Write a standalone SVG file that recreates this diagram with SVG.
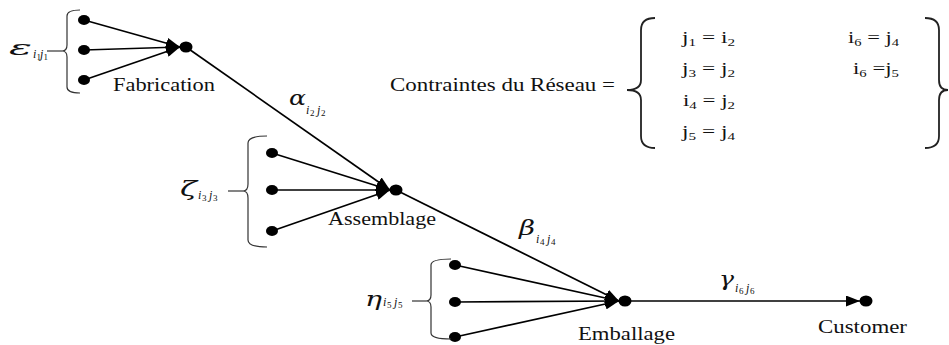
<svg xmlns="http://www.w3.org/2000/svg" width="949" height="345" viewBox="0 0 949 345">
<style>
.t{font-family:"Liberation Serif","Times New Roman",serif;fill:#111;}
.lbl{font-size:18px;}
.g{font-family:"DejaVu Serif","Liberation Serif",serif;font-style:italic;font-weight:normal;font-size:20px;}
.s{font-style:italic;font-size:12px;}
.d{font-size:9px;}
.eq{font-size:17px;}
.ln{stroke:#000;stroke-width:1.7;fill:none;}
.br{stroke:#333;stroke-width:1.2;fill:none;}
.bb{stroke:#222;stroke-width:1.8;fill:none;}
.dot{fill:#000;}
</style>
<defs>
<marker id="ah" markerUnits="userSpaceOnUse" markerWidth="15" markerHeight="11" refX="14" refY="5.5" orient="auto">
<path d="M0,0 L14,5.5 L0,11 z" fill="#000"/>
</marker>
</defs>

<g id="connectors">
<line class="ln" x1="84" y1="20" x2="180" y2="47" marker-end="url(#ah)"/>
<line class="ln" x1="84" y1="50" x2="180" y2="47" marker-end="url(#ah)"/>
<line class="ln" x1="84" y1="80" x2="180" y2="47" marker-end="url(#ah)"/>
<line class="ln" x1="186" y1="47" x2="390" y2="190" marker-end="url(#ah)"/>
<line class="ln" x1="272" y1="153" x2="390" y2="190" marker-end="url(#ah)"/>
<line class="ln" x1="272" y1="190" x2="390" y2="190" marker-end="url(#ah)"/>
<line class="ln" x1="272" y1="231" x2="390" y2="190" marker-end="url(#ah)"/>
<line class="ln" x1="396" y1="190" x2="619" y2="301" marker-end="url(#ah)"/>
<line class="ln" x1="455" y1="265" x2="619" y2="301" marker-end="url(#ah)"/>
<line class="ln" x1="455" y1="302" x2="619" y2="301" marker-end="url(#ah)"/>
<line class="ln" x1="455" y1="337" x2="619" y2="301" marker-end="url(#ah)"/>
<line class="ln" x1="625" y1="301" x2="860" y2="301" marker-end="url(#ah)"/>
</g>

<g id="fabrication">
<ellipse class="dot" cx="84" cy="20" rx="6" ry="5"/>
<ellipse class="dot" cx="84" cy="50" rx="6" ry="5"/>
<ellipse class="dot" cx="84" cy="80" rx="6" ry="5"/>
<ellipse class="dot" cx="186" cy="47" rx="6.5" ry="5.5"/>
<path class="br" d="M80,10 Q67,10 67,16 L67,45 Q67,51 62,51 Q67,51 67,57 L67,87 Q67,93 80,93"/>
<line class="br" x1="47" y1="51" x2="62" y2="51"/>
<text class="t g" x="9" y="55" textLength="23" lengthAdjust="spacingAndGlyphs">ε</text>
<text class="t s" x="33" y="58">i</text><text class="t d" x="36.5" y="60">1</text>
<text class="t s" x="40" y="58">j</text><text class="t d" x="43.5" y="60">1</text>
<text class="t lbl" x="113" y="91" textLength="102" lengthAdjust="spacingAndGlyphs">Fabrication</text>
</g>

<g id="alpha-label">
<text class="t g" x="289" y="105" textLength="17" lengthAdjust="spacingAndGlyphs">α</text>
<text class="t s" x="306" y="114">i</text><text class="t d" x="310" y="116">2</text>
<text class="t s" x="317" y="114">j</text><text class="t d" x="321" y="116">2</text>
</g>

<g id="assemblage">
<ellipse class="dot" cx="272" cy="153" rx="6" ry="5"/>
<ellipse class="dot" cx="272" cy="190" rx="6" ry="5"/>
<ellipse class="dot" cx="272" cy="231" rx="6" ry="5"/>
<ellipse class="dot" cx="396" cy="190" rx="6.5" ry="5.5"/>
<path class="br" d="M267,136 Q248,136 248,143 L248,184 Q248,191 243,191 Q248,191 248,198 L248,240 Q248,247 267,247"/>
<line class="br" x1="228" y1="191" x2="243" y2="191"/>
<text class="t g" x="180" y="196" textLength="17" lengthAdjust="spacingAndGlyphs">ζ</text>
<text class="t s" x="198" y="199">i</text><text class="t d" x="202" y="201">3</text>
<text class="t s" x="209" y="199">j</text><text class="t d" x="213" y="201">3</text>
<text class="t lbl" x="328" y="225" textLength="108" lengthAdjust="spacingAndGlyphs">Assemblage</text>
</g>

<g id="beta-label">
<text class="t g" x="519" y="235" textLength="16" lengthAdjust="spacingAndGlyphs">β</text>
<text class="t s" x="536" y="243">i</text><text class="t d" x="540" y="245">4</text>
<text class="t s" x="547" y="243">j</text><text class="t d" x="551" y="245">4</text>
</g>

<g id="emballage">
<ellipse class="dot" cx="455" cy="265" rx="6" ry="5"/>
<ellipse class="dot" cx="455" cy="302" rx="6" ry="5"/>
<ellipse class="dot" cx="455" cy="337" rx="6" ry="5"/>
<ellipse class="dot" cx="625" cy="301" rx="6.5" ry="5.5"/>
<path class="br" d="M451,259 Q431,259 431,265 L431,295 Q431,301 426,301 Q431,301 431,307 L431,333 Q431,339 451,339"/>
<line class="br" x1="412" y1="301" x2="426" y2="301"/>
<text class="t g" x="365" y="306" textLength="17" lengthAdjust="spacingAndGlyphs">η</text>
<text class="t s" x="383" y="306">i</text><text class="t d" x="387" y="308">5</text>
<text class="t s" x="394" y="306">j</text><text class="t d" x="398" y="308">5</text>
<text class="t lbl" x="578" y="340" textLength="97" lengthAdjust="spacingAndGlyphs">Emballage</text>
</g>

<g id="gamma-label">
<text class="t g" x="719" y="286" textLength="15" lengthAdjust="spacingAndGlyphs">γ</text>
<text class="t s" x="735" y="292">i</text><text class="t d" x="739" y="294">6</text>
<text class="t s" x="746" y="292">j</text><text class="t d" x="750" y="294">6</text>
</g>

<g id="customer">
<ellipse class="dot" cx="866" cy="301" rx="6.5" ry="5.5"/>
<text class="t lbl" x="818" y="333" textLength="89" lengthAdjust="spacingAndGlyphs">Customer</text>
</g>

<g id="contraintes">
<text class="t" style="font-size:19px" x="390" y="91" textLength="225" lengthAdjust="spacingAndGlyphs">Contraintes du Réseau =</text>
<path class="bb" d="M655,18 Q641,18 641,30 L641,80 Q641,90 627,90 Q641,90 641,100 L641,136 Q641,148 655,148"/>
<path class="bb" d="M925,18 Q939,18 939,30 L939,80 Q939,90 948,90 Q939,90 939,100 L939,136 Q939,148 925,148"/>
<text class="t eq" x="682" y="43" textLength="53" lengthAdjust="spacingAndGlyphs">j<tspan font-size="11" dy="3">1</tspan><tspan dy="-3"> = i</tspan><tspan font-size="11" dy="3">2</tspan></text>
<text class="t eq" x="682" y="74" textLength="53" lengthAdjust="spacingAndGlyphs">j<tspan font-size="11" dy="3">3</tspan><tspan dy="-3"> = j</tspan><tspan font-size="11" dy="3">2</tspan></text>
<text class="t eq" x="683" y="106" textLength="52" lengthAdjust="spacingAndGlyphs">i<tspan font-size="11" dy="3">4</tspan><tspan dy="-3"> = j</tspan><tspan font-size="11" dy="3">2</tspan></text>
<text class="t eq" x="682" y="137" textLength="53" lengthAdjust="spacingAndGlyphs">j<tspan font-size="11" dy="3">5</tspan><tspan dy="-3"> = j</tspan><tspan font-size="11" dy="3">4</tspan></text>
<text class="t eq" x="848" y="43" textLength="51" lengthAdjust="spacingAndGlyphs">i<tspan font-size="11" dy="3">6</tspan><tspan dy="-3"> = j</tspan><tspan font-size="11" dy="3">4</tspan></text>
<text class="t eq" x="853" y="74" textLength="46" lengthAdjust="spacingAndGlyphs">i<tspan font-size="11" dy="3">6</tspan><tspan dy="-3"> =j</tspan><tspan font-size="11" dy="3">5</tspan></text>
</g>
</svg>
